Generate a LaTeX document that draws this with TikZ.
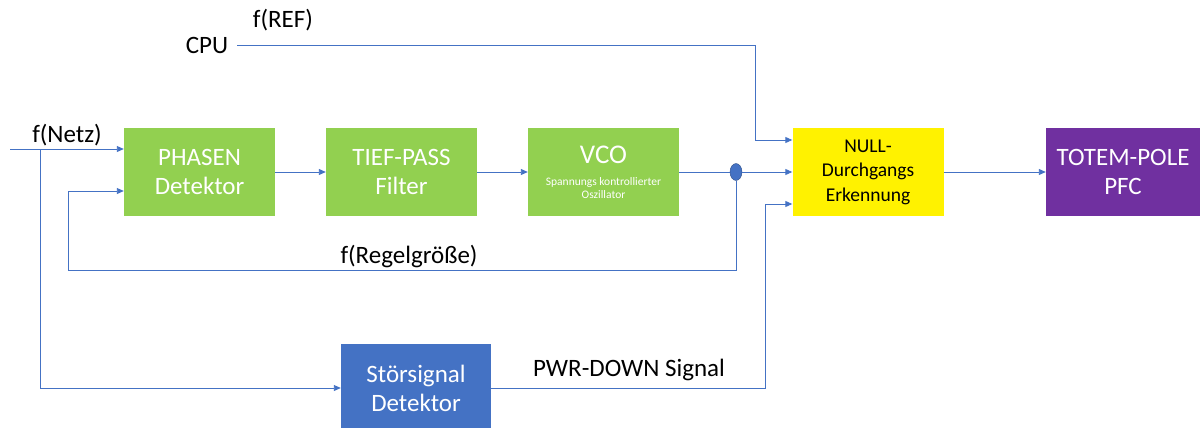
\documentclass[tikz,border=0pt]{standalone}
\usepackage{fontspec}
\setmainfont{Carlito}
\usetikzlibrary{arrows.meta,calc,shapes.geometric}
\definecolor{lnblue}{HTML}{4472C4}
\definecolor{boxgrn}{HTML}{92D050}
\definecolor{boxprp}{HTML}{7030A0}
\tikzset{
  blk/.style={minimum width=151pt,minimum height=88pt,align=center,inner sep=2pt,
              font=\fontsize{25}{29}\selectfont},
  grn/.style={blk,fill=boxgrn,text=white},
  blu/.style={blk,fill=lnblue,text=white},
  ylw/.style={blk,fill=yellow,text=black,font=\fontsize{19.5}{24.5}\selectfont},
  prp/.style={blk,fill=boxprp,text=white},
  ar/.style ={-{Triangle[length=7pt,width=6pt]},line width=.9pt,draw=lnblue},
  ln/.style ={line width=.9pt,draw=lnblue},
  dot/.style={ellipse,fill=lnblue,draw=lnblue!70!black,minimum width=12pt,
              minimum height=17pt,inner sep=0pt},
  lbl/.style={font=\fontsize{25}{29}\selectfont,inner sep=1pt},
}
\begin{document}
\begin{tikzpicture}[x=1pt,y=1pt]
  \useasboundingbox (0,0) rectangle (1203,-428);
  \node[grn] (phd) at (199.5,-172) {PHASEN\\Detektor};
  \node[grn] (tpf) at (401.5,-172) {TIEF-PASS\\Filter};
  \node[grn,font=\fontsize{11.5}{12.5}\selectfont] (vco) at (603.5,-172)
     {{\fontsize{27}{28}\selectfont VCO}\\[10pt]Spannungs kontrollierter\\Oszillator};
  \node[ylw] (nul) at (868,-172) {NULL-\\Durchgangs\\Erkennung};
  \node[prp,minimum width=154pt] (tot) at (1123,-172) {TOTEM-POLE\\PFC};
  \node[blu,minimum width=150pt] (sto) at (416,-388) {Störsignal\\Detektor};
  \node[dot] (knt) at (736,-172) {};
  % labels
  \node[lbl] (cpu) at (207,-45) {CPU};
  \node[lbl] at (283,-20) {f(REF)};
  \node[lbl] at (67,-135) {f(Netz)};
  \node[lbl] at (409,-257) {f(Regelgröße)};
  \node[lbl] at (629,-370) {PWR-DOWN Signal};
  % ports
  \coordinate (in) at (10,-149);
  \coordinate (br) at (40,-149);
  \coordinate (p1) at ($(phd.west)+(0,23)$);
  \coordinate (p2) at ($(phd.west)+(0,-19)$);
  \coordinate (n1) at ($(nul.west)+(0,32)$);
  \coordinate (n3) at ($(nul.west)+(0,-32)$);
  % signal paths
  \draw[ar] (in) -- (p1);
  \draw[ar] (br) |- (sto.west);
  \draw[ar] (phd) -- (tpf);
  \draw[ar] (tpf) -- (vco);
  \draw[ln] (vco) -- (knt);
  \draw[ar] (knt) -- (nul);
  \draw[ar] (nul) -- (tot);
  \draw[ar] (knt) |- (68,-270) |- (p2);
  \draw[ar] (cpu.east) ++(8,0) -| ($(n1)+(-37,0)$) -- (n1);
  \draw[ar] (sto.east) -| ($(n3)+(-27,0)$) -- (n3);
\end{tikzpicture}
\end{document}
